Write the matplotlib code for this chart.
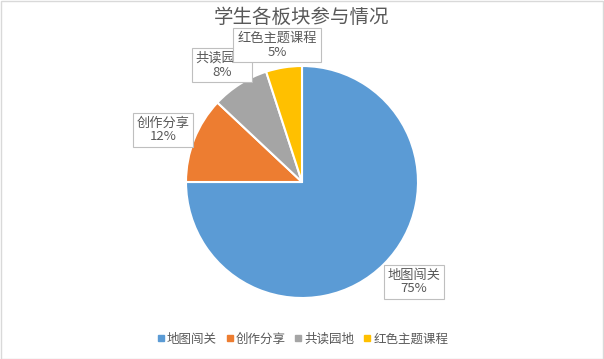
import matplotlib.pyplot as plt
from matplotlib.lines import Line2D
from matplotlib.patches import Rectangle

plt.rcParams['font.family'] = ['Noto Sans CJK SC', 'DejaVu Sans']

labels = ['地图闯关', '创作分享', '共读园地', '红色主题课程']
values = [75, 12, 8, 5]
colors = ['#5B9BD5', '#ED7D31', '#A5A5A5', '#FFC000']

# label box centres in pixels (x, y from top)
label_pos = [(414, 282), (163, 130), (222, 65), (277, 45)]

W, H = 604, 359
cx, cy, r = 302, 182, 116

fig = plt.figure(figsize=(W / 100, H / 100), dpi=100)
fig.patches.append(Rectangle((0.5 / W, 0.5 / H), 1 - 1.5 / W, 1 - 1.5 / H,
                             transform=fig.transFigure, fill=False,
                             edgecolor='#D9D9D9', linewidth=1))

ax = fig.add_axes([(cx - r) / W, (H - cy - r) / H, 2 * r / W, 2 * r / H])
ax.pie(values, colors=colors, startangle=90, counterclock=False,
       wedgeprops=dict(edgecolor='white', linewidth=1.5))
ax.set_xlim(-1, 1)
ax.set_ylim(-1, 1)
ax.set_aspect('equal')
ax.axis('off')

total = sum(values)
for i, (lab, v) in enumerate(zip(labels, values)):
    px, py = label_pos[i]
    x = (px - cx) / r
    y = (cy - py) / r
    ax.text(x, y, f'{lab}\n{round(100 * v / total)}%', ha='center', va='center',
            fontsize=9.5, color='#595959', linespacing=1.1, zorder=5 + i,
            bbox=dict(boxstyle='square,pad=0.3', facecolor='white',
                      edgecolor='#BFBFBF', linewidth=0.8),
            clip_on=False)

fig.text(0.5, 1 - 17 / H, '学生各板块参与情况', ha='center', va='center',
         fontsize=14, color='#595959')

handles = [Line2D([], [], marker='s', linestyle='none', markersize=5,
                  color=c) for c in colors]
fig.legend(handles, labels, loc='center', bbox_to_anchor=(0.5, 1 - 339 / H),
           ncol=4, frameon=False, fontsize=9, labelcolor='#595959',
           handletextpad=0.1, columnspacing=0.6, handlelength=0.8)

fig.savefig('out.png', dpi=100)
